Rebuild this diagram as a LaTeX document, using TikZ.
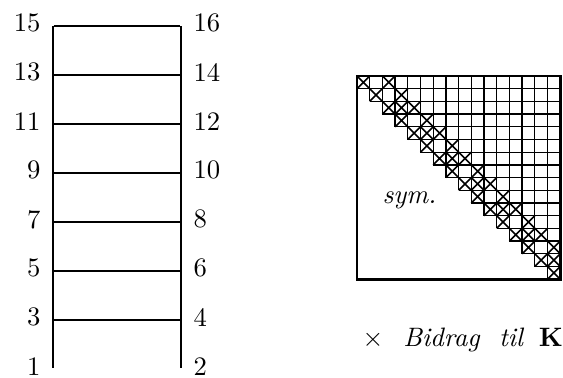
\documentclass[tikz,border=0pt]{standalone}
\usepackage{amssymb, amsmath}
\usepackage{tikz}

\tikzset{
  member/.style={line width=0.75pt},
  joint/.style={inner sep=0pt, minimum size=0pt},
  num/.style={inner sep=4.3pt, yshift=0.8pt},
  gridline/.style={line width=0.5pt},
  kcross/.style={line width=0.6pt},
  frame/.style={line width=1pt}
}
\newcommand{\kentry}[2]{\draw[kcross] (#2-1, #1-1) -- (#2, #1) (#2-1, #1) -- (#2, #1-1);}

\begin{document}
\begin{tikzpicture}[x=0.375pt, y=-0.375pt]

  \useasboundingbox (0, 0) rectangle (563, 377);

  % ladder
  \foreach \k in {0,...,7} {
    \pgfmathtruncatemacro{\na}{2*\k+1}
    \pgfmathtruncatemacro{\nb}{2*\k+2}
    \node[joint, label={[num]left:\na}] (n\na) at (53, 368.5-49*\k) {};
    \node[joint, label={[num]right:\nb}] (n\nb) at (181, 368.5-49*\k) {};
  }

  \draw[member] (n1) -- (n15) -- (n16) -- (n2);
  \foreach \a/\b in {3/4, 5/6, 7/8, 9/10, 11/12, 13/14}
    \draw[member] (n\a) -- (n\b);

  % stiffness matrix
  \begin{scope}[shift={(357, 76)}, x=4.7625pt, y=-4.7625pt]
    \foreach \k in {0,...,16} {
      \pgfmathsetmacro{\ya}{min(\k+1, 16)}
      \pgfmathsetmacro{\xa}{max(\k-1, 0)}
      \draw[gridline] (\k, 0) -- (\k, \ya);
      \draw[gridline] (\xa, \k) -- (16, \k);
    }
    \foreach \i in {1,...,16} \kentry{\i}{\i};
    \foreach \i in {1,...,14} \kentry{\i}{\i+2};
    \foreach \i in {3,5,...,15} \kentry{\i}{\i+1};
    \draw[frame] (0, 0) rectangle (16, 16);
  \end{scope}

  \node[anchor=base west, inner sep=0pt] (sym) at (382, 203.5) {\textit{sym.}};

  \node[anchor=base west, inner sep=0pt] (legend) at (362, 346.5)
  {$\times$\hspace{7.5pt}\textit{Bidrag}\hspace{7pt}\textit{til}\hspace{5.5pt}$\mathbf{K}$};

\end{tikzpicture}
\end{document}
